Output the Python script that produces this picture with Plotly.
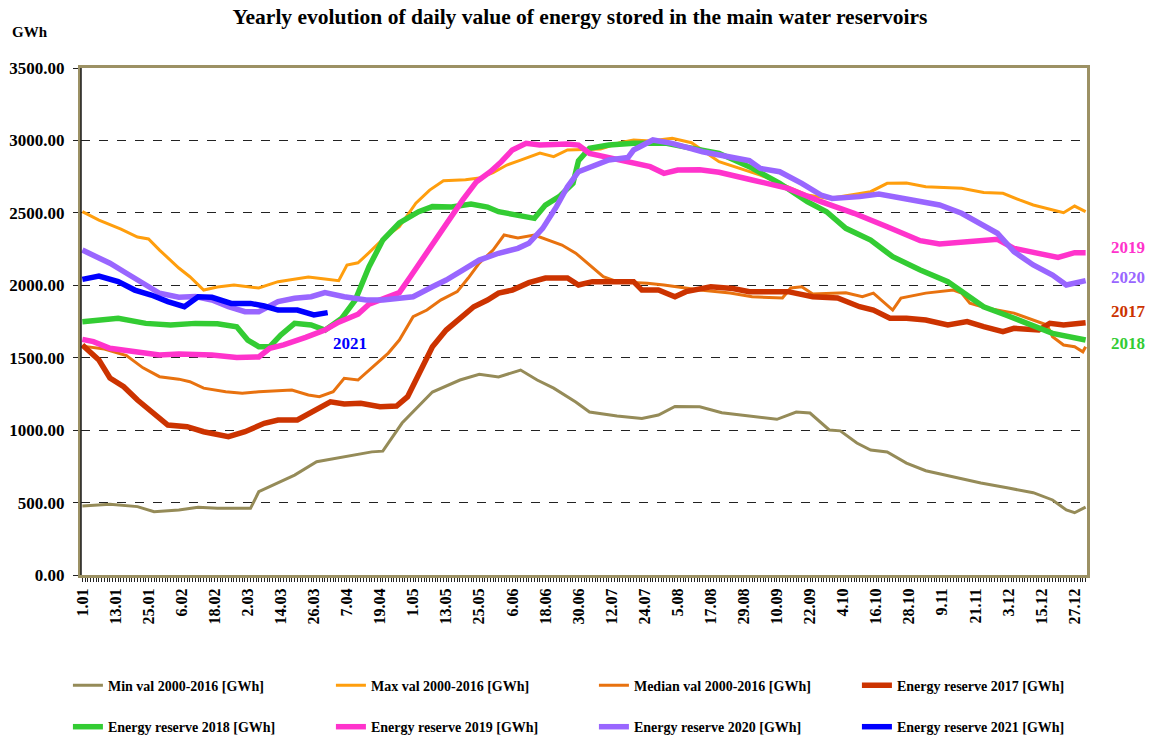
import pandas as pd
import plotly.graph_objects as go

TITLE = "Yearly evolution of daily value of energy stored in the main water reservoirs"

TICK_LABELS = ["1.01", "13.01", "25.01", "6.02", "18.02", "2.03", "14.03", "26.03", "7.04", "19.04",
               "1.05", "13.05", "25.05", "6.06", "18.06", "30.06", "12.07", "24.07", "5.08", "17.08",
               "29.08", "10.09", "22.09", "4.10", "16.10", "28.10", "9.11", "21.11", "3.12", "15.12", "27.12"]

MIN_DATES = ["1.01", "11.01", "21.01", "27.01", "5.02", "12.02", "19.02", "3.03", "6.03", "13.03",
             "19.03", "27.03", "6.04", "16.04", "20.04", "27.04", "8.05", "18.05", "25.05", "1.06",
             "9.06", "15.06", "21.06", "29.06", "4.07", "14.07", "23.07", "29.07", "4.08", "13.08",
             "21.08", "1.09", "10.09", "17.09", "22.09", "29.09", "3.10", "9.10", "14.10", "20.10",
             "27.10", "3.11", "13.11", "23.11", "3.12", "12.12", "19.12", "24.12", "27.12", "31.12"]
MIN_VALS = [476, 488, 472, 437, 449, 468, 460, 460, 575, 635,
            690, 782, 815, 850, 855, 1049, 1263, 1346, 1385, 1367,
            1415, 1346, 1290, 1194, 1125, 1097, 1080, 1104, 1163, 1162,
            1120, 1093, 1075, 1125, 1118, 1001, 995, 911, 863, 849,
            773, 720, 679, 635, 600, 568, 518, 449, 430, 469]

MAX_DATES = ["1.01", "7.01", "15.01", "21.01", "25.01", "29.01", "5.02", "9.02", "14.02", "19.02",
             "25.02", "2.03", "6.03", "13.03", "24.03", "30.03", "4.04", "7.04", "11.04", "15.04",
             "21.04", "26.04", "2.05", "7.05", "12.05", "20.05", "25.05", "30.05", "4.06", "9.06",
             "16.06", "21.06", "26.06", "8.07", "15.07", "20.07", "26.07", "3.08", "10.08", "20.08",
             "4.09", "14.09", "21.09", "29.09", "14.10", "20.10", "27.10", "3.11", "16.11", "24.11",
             "1.12", "7.12", "12.12", "23.12", "27.12", "31.12"]
MAX_VALS = [2508, 2450, 2388, 2333, 2320, 2243, 2119, 2059, 1967, 1988,
            2002, 1988, 1981, 2025, 2057, 2043, 2032, 2140, 2155, 2225,
            2335, 2404, 2567, 2657, 2722, 2728, 2740, 2777, 2830, 2864,
            2913, 2888, 2934, 2940, 2984, 3003, 2996, 3015, 2984, 2853,
            2761, 2680, 2623, 2600, 2646, 2704, 2706, 2680, 2670, 2640,
            2635, 2589, 2554, 2501, 2547, 2508]

MED_DATES = ["1.01", "9.01", "17.01", "23.01", "29.01", "5.02", "9.02", "14.02", "22.02", "28.02",
             "6.03", "18.03", "24.03", "28.03", "2.04", "6.04", "11.04", "15.04", "18.04", "22.04",
             "26.04", "1.05", "6.05", "11.05", "17.05", "21.05", "25.05", "30.05", "3.06", "8.06",
             "14.06", "18.06", "24.06", "29.06", "5.07", "9.07", "14.07", "25.07", "31.07", "13.08",
             "24.08", "1.09", "12.09", "15.09", "19.09", "23.09", "5.10", "11.10", "15.10", "22.10",
             "25.10", "3.11", "13.11", "16.11", "19.11", "25.11", "5.12", "12.12", "17.12", "19.12",
             "23.12", "27.12", "30.12", "31.12"]
MED_VALS = [1580, 1560, 1515, 1430, 1369, 1352, 1334, 1290, 1265, 1254,
            1265, 1277, 1243, 1231, 1265, 1358, 1346, 1415, 1463, 1532,
            1622, 1783, 1829, 1898, 1956, 2050, 2153, 2243, 2347, 2326,
            2347, 2320, 2278, 2222, 2128, 2059, 2025, 2014, 2002, 1967,
            1946, 1921, 1912, 1981, 1990, 1940, 1948, 1921, 1946, 1829,
            1912, 1946, 1967, 1946, 1877, 1843, 1808, 1760, 1726, 1645,
            1588, 1576, 1541, 1576]

R2017_DATES = ["1.01", "7.01", "11.01", "16.01", "21.01", "26.01", "1.02", "8.02", "14.02", "23.02",
               "1.03", "8.03", "13.03", "20.03", "25.03", "1.04", "6.04", "12.04", "19.04", "25.04",
               "29.04", "3.05", "8.05", "13.05", "18.05", "23.05", "28.05", "1.06", "6.06", "12.06",
               "18.06", "26.06", "30.06", "5.07", "20.07", "23.07", "29.07", "4.08", "8.08", "17.08",
               "25.08", "31.08", "14.09", "23.09", "2.10", "10.10", "15.10", "21.10", "27.10", "3.11",
               "11.11", "18.11", "24.11", "1.12", "5.12", "14.12", "18.12", "23.12", "31.12"]
R2017_VALS = [1588, 1484, 1360, 1300, 1208, 1127, 1035, 1024, 989, 955,
              989, 1047, 1070, 1070, 1127, 1196, 1180, 1185, 1162, 1166,
              1231, 1392, 1576, 1691, 1771, 1852, 1898, 1946, 1967, 2018,
              2050, 2050, 2002, 2025, 2025, 1967, 1967, 1921, 1956, 1990,
              1978, 1956, 1956, 1921, 1912, 1852, 1829, 1772, 1772, 1760,
              1726, 1749, 1714, 1680, 1703, 1691, 1737, 1726, 1741]

R2018_DATES = ["1.01", "7.01", "14.01", "24.01", "2.02", "11.02", "19.02", "26.02", "2.03", "6.03",
               "10.03", "14.03", "19.03", "25.03", "30.03", "5.04", "10.04", "15.04", "20.04", "26.04",
               "3.05", "8.05", "15.05", "22.05", "28.05", "1.06", "8.06", "14.06", "18.06", "23.06",
               "28.06", "30.06", "4.07", "11.07", "20.07", "1.08", "7.08", "14.08", "20.08", "1.09",
               "11.09", "21.09", "28.09", "5.10", "14.10", "22.10", "1.11", "11.11", "18.11", "24.11",
               "2.12", "12.12", "19.12", "31.12"]
R2018_VALS = [1749, 1760, 1772, 1737, 1726, 1737, 1735, 1714, 1622, 1576,
              1576, 1657, 1737, 1726, 1690, 1770, 1898, 2128, 2312, 2430,
              2508, 2543, 2541, 2561, 2540, 2508, 2485, 2462, 2554, 2612,
              2704, 2860, 2945, 2968, 2980, 2980, 2957, 2934, 2911, 2809,
              2704, 2577, 2508, 2393, 2312, 2197, 2105, 2025, 1933, 1852,
              1795, 1726, 1668, 1622]

R2019_DATES = ["1.01", "5.01", "11.01", "21.01", "29.01", "5.02", "17.02", "26.02", "6.03", "10.03",
               "15.03", "23.03", "30.03", "4.04", "11.04", "15.04", "21.04", "26.04", "30.04", "5.05",
               "10.05", "14.05", "19.05", "24.05", "29.05", "2.06", "6.06", "11.06", "16.06", "26.06",
               "30.06", "4.07", "11.07", "19.07", "26.07", "31.07", "5.08", "13.08", "20.08", "1.09",
               "14.09", "26.09", "8.10", "20.10", "27.10", "1.11", "8.11", "18.11", "29.11", "5.12",
               "15.12", "21.12", "27.12", "31.12"]
R2019_VALS = [1627, 1611, 1565, 1542, 1519, 1525, 1519, 1502, 1505, 1565,
              1588, 1640, 1691, 1745, 1800, 1870, 1915, 1949, 2059, 2197,
              2335, 2462, 2589, 2715, 2784, 2853, 2934, 2980, 2968, 2975,
              2968, 2911, 2883, 2853, 2819, 2773, 2796, 2798, 2780, 2727,
              2669, 2577, 2497, 2404, 2347, 2308, 2285, 2301, 2317, 2255,
              2216, 2193, 2225, 2225]

R2020_DATES = ["1.01", "5.01", "11.01", "17.01", "24.01", "29.01", "5.02", "11.02", "17.02", "23.02",
               "1.03", "6.03", "13.03", "19.03", "25.03", "30.03", "6.04", "14.04", "20.04", "27.04",
               "1.05", "8.05", "13.05", "19.05", "25.05", "1.06", "8.06", "12.06", "17.06", "22.06",
               "26.06", "30.06", "5.07", "11.07", "18.07", "20.07", "27.07", "3.08", "14.08", "25.08",
               "31.08", "4.09", "11.09", "19.09", "26.09", "30.09", "10.10", "17.10", "25.10", "1.11",
               "8.11", "16.11", "23.11", "29.11", "5.12", "12.12", "19.12", "24.12", "31.12"]
R2020_VALS = [2243, 2209, 2152, 2083, 2002, 1945, 1917, 1923, 1898, 1852,
              1818, 1818, 1887, 1910, 1921, 1950, 1921, 1898, 1898, 1917,
              1921, 1990, 2036, 2105, 2174, 2221, 2255, 2290, 2393, 2543,
              2680, 2784, 2819, 2865, 2883, 2934, 3003, 2980, 2922, 2888,
              2860, 2807, 2784, 2704, 2623, 2600, 2612, 2630, 2600, 2577,
              2554, 2497, 2428, 2359, 2232, 2140, 2071, 2002, 2032]

R2021_DATES = ["1.01", "7.01", "14.01", "20.01", "26.01", "1.02", "7.02", "12.02", "17.02", "24.02",
               "3.03", "8.03", "13.03", "20.03", "26.03", "31.03"]
R2021_VALS = [2041, 2064, 2025, 1967, 1933, 1887, 1852, 1921, 1917, 1875,
              1875, 1857, 1829, 1829, 1795, 1811]

YEAR = 2021


def to_dates(labels):
    out = []
    for s in labels:
        d, m = s.split(".")
        out.append(pd.Timestamp(year=YEAR, month=int(m), day=int(d)))
    return out


SERIES = [
    ("Min val 2000-2016 [GWh]", MIN_DATES, MIN_VALS, "#958B58", 3, "legend"),
    ("Max val 2000-2016 [GWh]", MAX_DATES, MAX_VALS, "#FF9E0D", 3, "legend"),
    ("Median val 2000-2016 [GWh]", MED_DATES, MED_VALS, "#E8720F", 3, "legend"),
    ("Energy reserve 2017 [GWh]", R2017_DATES, R2017_VALS, "#CC3300", 5.5, "legend"),
    ("Energy reserve 2018 [GWh]", R2018_DATES, R2018_VALS, "#33CC33", 5.5, "legend2"),
    ("Energy reserve 2019 [GWh]", R2019_DATES, R2019_VALS, "#FF33CC", 5.5, "legend2"),
    ("Energy reserve 2020 [GWh]", R2020_DATES, R2020_VALS, "#9966FF", 5.5, "legend2"),
    ("Energy reserve 2021 [GWh]", R2021_DATES, R2021_VALS, "#0000FF", 5.5, "legend2"),
]

SERIF = "Liberation Serif, Times New Roman, serif"

fig = go.Figure()
for name, dates, vals, color, width, leg in SERIES:
    fig.add_trace(go.Scatter(
        x=to_dates(dates), y=vals, mode="lines", name=name,
        line=dict(color=color, width=width), legend=leg,
    ))

tick_dates = to_dates(TICK_LABELS)
x_start = pd.Timestamp(year=YEAR, month=1, day=1) - pd.Timedelta(hours=12)
x_end = pd.Timestamp(year=YEAR, month=12, day=31) + pd.Timedelta(hours=12)

BORDER = "#9C9164"
LEG_FONT = dict(family=SERIF, size=14, weight="bold", color="black")

fig.update_layout(
    width=1153, height=742,
    margin=dict(l=81, r=66, t=68, b=167, autoexpand=False),
    paper_bgcolor="white", plot_bgcolor="white",
    font=dict(family=SERIF, color="black", size=14),
    title=dict(text=TITLE, x=0.503, xanchor="center", y=1 - 16 / 742, yanchor="middle",
               font=dict(family=SERIF, size=21.5, weight="bold", color="black")),
    xaxis=dict(
        type="date", range=[x_start, x_end], automargin=False,
        tickmode="array", tickvals=tick_dates, ticktext=TICK_LABELS,
        tickangle=-90, ticks="outside", ticklen=4, tickcolor="#222", tickwidth=1,
        tickfont=dict(family=SERIF, size=16, weight="bold", color="black"),
        minor=dict(ticks="outside", ticklen=4, tickcolor="#222", tickwidth=1,
                   dtick=86400000, tick0=pd.Timestamp(year=YEAR, month=1, day=1)),
        showgrid=False, showline=True, linecolor=BORDER, linewidth=3, mirror=True,
        zeroline=False,
    ),
    yaxis=dict(
        range=[0, 3500], dtick=500, tickformat=".2f", automargin=False,
        ticks="outside", ticklen=5, tickcolor="#222", ticklabelstandoff=5,
        tickfont=dict(family=SERIF, size=17, weight="bold", color="black"),
        showgrid=True, gridcolor="#222", griddash="dash", gridwidth=1,
        showline=True, linecolor=BORDER, linewidth=3, mirror=True, zeroline=False,
    ),
    legend=dict(orientation="h", x=-0.013, xanchor="left", y=-0.218, yanchor="middle",
                entrywidth=218, entrywidthmode="pixels", traceorder="normal",
                font=LEG_FONT, bgcolor="rgba(0,0,0,0)"),
    legend2=dict(orientation="h", x=-0.013, xanchor="left", y=-0.300, yanchor="middle",
                 entrywidth=218, entrywidthmode="pixels", traceorder="normal",
                 font=LEG_FONT, bgcolor="rgba(0,0,0,0)"),
    showlegend=True,
)

fig.add_shape(type="line", xref="paper", yref="paper", x0=0, x1=0, y0=0, y1=1,
              line=dict(color="#1a1a1a", width=1.5), layer="above")

fig.add_annotation(text="<b>GWh</b>", xref="paper", yref="paper",
                   x=(10 - 81) / 1006, y=(575 - 32) / 507, xanchor="left", yanchor="middle",
                   showarrow=False, font=dict(family=SERIF, size=15, color="black"))

END_LABELS = [("2019", 2260, "#FF33CC"), ("2020", 2055, "#9966FF"),
              ("2017", 1820, "#CC3300"), ("2018", 1600, "#33CC33")]
for txt, yv, col in END_LABELS:
    fig.add_annotation(text="<b>%s</b>" % txt, xref="paper", yref="y",
                       x=(1128 - 81) / 1006, y=yv, xanchor="center", yanchor="middle",
                       showarrow=False, font=dict(family=SERIF, size=17, color=col))

fig.add_annotation(text="<b>2021</b>", xref="x", yref="y",
                   x=pd.Timestamp(year=YEAR, month=4, day=8), y=1595,
                   xanchor="center", yanchor="middle", showarrow=False,
                   font=dict(family=SERIF, size=17, color="#0000FF"))

fig.write_html("out.html", config={"displayModeBar": False},
               post_script="document.body.style.margin='0px';")
